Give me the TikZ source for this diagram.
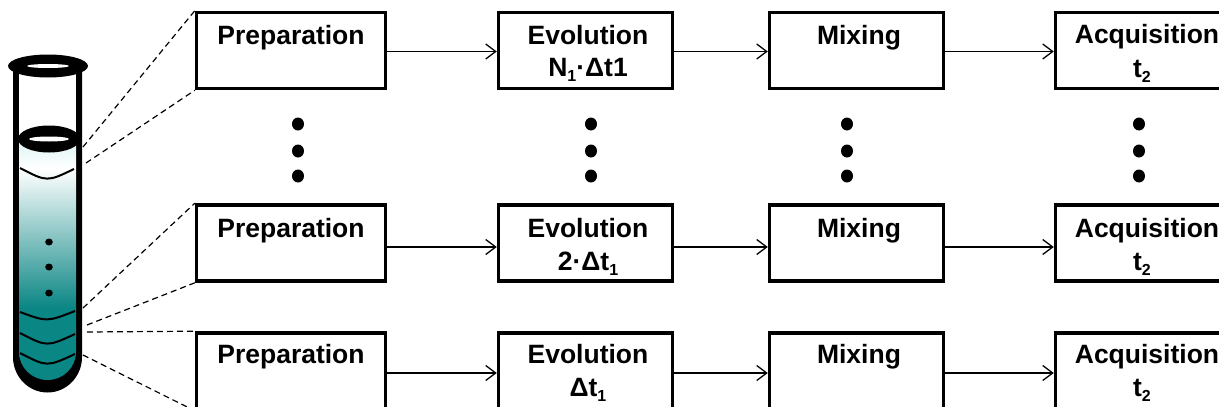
\documentclass[tikz,border=0pt]{standalone}
\usepackage{fontspec}
\setmainfont{Liberation Sans}
\usetikzlibrary{arrows.meta}
\definecolor{liquid}{RGB}{10,134,132}
\definecolor{liquidtop}{RGB}{222,244,244}
\pgfdeclareverticalshading{tubeliquid}{100bp}{color(0bp)=(liquid); color(40bp)=(liquid); color(69bp)=(white); color(75bp)=(liquidtop); color(100bp)=(liquidtop)}
\newcommand\lowsub[1]{\raisebox{-5pt}{\fontsize{16}{16}\selectfont #1}}
\begin{document}
\begin{tikzpicture}[x=1pt,y=-1pt,
  stagebox/.style={draw, line width=3.6pt, minimum height=76pt, inner sep=0pt},
  prepbox/.style={stagebox, minimum width=188.8pt},
  evbox/.style={stagebox, minimum width=173.8pt},
  acqbox/.style={stagebox, minimum width=182.8pt},
  ttl/.style={anchor=base, inner sep=0pt, font=\bfseries\fontsize{26.5}{30}\selectfont},
  flow/.style={line width=1.3pt, -{Straight Barb[length=10pt,width=15pt,line width=1.3pt]}},
  zoomline/.style={line width=1.2pt, dash pattern=on 6pt off 4pt},
  bigdot/.style={fill=black},
  meniscus/.style={line width=2pt}]
\useasboundingbox (0,0) rectangle (1219,407);
\clip (0,0) rectangle (1219,407);

% ---------- test tube ----------
\fill[black] (13,66) -- (13,357) arc[start angle=180, end angle=0, x radius=34.5, y radius=35.5] -- (82,66) -- cycle;
\fill[white] (19,70) rectangle (76,160);
\shade[shading=tubeliquid] (19,140) -- (19,352) arc[start angle=180, end angle=0, x radius=28.5, y radius=28] -- (76,140) -- cycle;
% rims
\fill[black] (48,66) ellipse[x radius=40, y radius=11.5];
\fill[white] (48,66) ellipse[x radius=21, y radius=2];
\fill[black] (49,139) ellipse[x radius=31, y radius=13.5];
\fill[white] (49,139) ellipse[x radius=20, y radius=2.5];
% layers in the liquid
\draw[meniscus] (20,168) .. controls (47,182) .. (74,169);
\draw[meniscus] (20,312) .. controls (47,322) .. (75,311);
\draw[meniscus] (20,333) .. controls (47,347) .. (75,334);
\draw[meniscus] (20,353) .. controls (47,367) .. (75,354);
\foreach \yy in {242,267,293} \fill (49,\yy) ellipse[x radius=3.8, y radius=3.5];

% tube points where the slices are taken
\coordinate (s1a) at (83,147);
\coordinate (s1b) at (86,163);
\coordinate (s2a) at (83,308);
\coordinate (s2b) at (87,325);
\coordinate (s3a) at (87,332);
\coordinate (s3b) at (83,355);

% ---------- stage boxes ----------
% row N1
\node[prepbox] (p1) at (291,50.5) {};
\node[evbox]   (e1) at (585.5,50.5) {};
\node[evbox]   (m1) at (856.5,50.5) {};
\node[acqbox]  (a1) at (1147,50.5) {};
% row 2
\node[prepbox] (p2) at (291,243) {};
\node[evbox]   (e2) at (585.5,243) {};
\node[evbox]   (m2) at (856.5,243) {};
\node[acqbox]  (a2) at (1147,243) {};
% row 1
\node[prepbox] (p3) at (291,371) {};
\node[evbox]   (e3) at (585.5,371) {};
\node[evbox]   (m3) at (856.5,371) {};
\node[acqbox]  (a3) at (1147,371) {};

% labels
\node[ttl] (p1t) at (291,44) {Preparation};
\node[ttl] (e1t) at (588,44) {Evolution};
\node[ttl] (e1s) at (588,76) {N\lowsub{1}·Δt1};
\node[ttl] (m1t) at (859,44) {Mixing};
\node[ttl] (a1t) at (1147,43) {Acquisition};
\node[ttl] (a1s) at (1142,77) {t\lowsub{2}};

\node[ttl] (p2t) at (291,237) {Preparation};
\node[ttl] (e2t) at (588,237) {Evolution};
\node[ttl] (e2s) at (588,270) {2·Δt\lowsub{1}};
\node[ttl] (m2t) at (859,237) {Mixing};
\node[ttl] (a2t) at (1147,237) {Acquisition};
\node[ttl] (a2s) at (1142,270) {t\lowsub{2}};

\node[ttl] (p3t) at (291,363) {Preparation};
\node[ttl] (e3t) at (588,363) {Evolution};
\node[ttl] (e3s) at (588,396) {Δt\lowsub{1}};
\node[ttl] (m3t) at (859,363) {Mixing};
\node[ttl] (a3t) at (1147,363) {Acquisition};
\node[ttl] (a3s) at (1142,396) {t\lowsub{2}};

% ---------- flow arrows ----------
\draw[flow] ([yshift=-1pt]p1.east) -- ([yshift=-1pt]e1.west);
\draw[flow] ([yshift=-1pt]e1.east) -- ([yshift=-1pt]m1.west);
\draw[flow] ([yshift=-1pt]m1.east) -- ([yshift=-1pt]a1.west);
\draw[flow] ([yshift=-4pt]p2.east) -- ([yshift=-4pt]e2.west);
\draw[flow] ([yshift=-4pt]e2.east) -- ([yshift=-4pt]m2.west);
\draw[flow] ([yshift=-4pt]m2.east) -- ([yshift=-4pt]a2.west);
\draw[flow] ([yshift=-2pt]p3.east) -- ([yshift=-2pt]e3.west);
\draw[flow] ([yshift=-2pt]e3.east) -- ([yshift=-2pt]m3.west);
\draw[flow] ([yshift=-2pt]m3.east) -- ([yshift=-2pt]a3.west);

% ---------- slice lines ----------
\draw[zoomline] (s1a) -- (p1.north west);
\draw[zoomline] (s1b) -- (p1.south west);
\draw[zoomline] (s2a) -- (p2.north west);
\draw[zoomline] (s2b) -- (p2.south west);
\draw[zoomline] (s3a) -- (p3.north west);
\draw[zoomline] (s3b) -- (p3.south west);

% ---------- ellipsis dots ----------
\foreach \xx in {298,591,847,1139}
  \foreach \yy in {124,151,176}
    \fill[bigdot] (\xx,\yy) ellipse[x radius=6, y radius=6.5];
\end{tikzpicture}
\end{document}
